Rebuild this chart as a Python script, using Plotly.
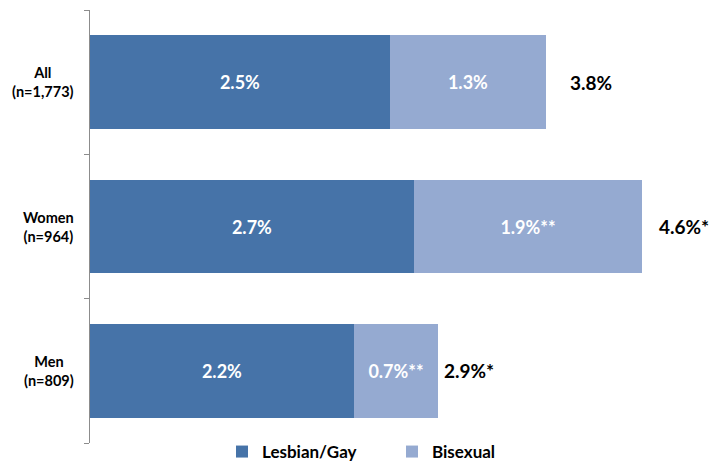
import plotly.graph_objects as go

# Data
categories = ["All", "Women", "Men"]
sample_sizes = ["n=1,773", "n=964", "n=809"]
lesbian_gay = [2.5, 2.7, 2.2]
bisexual = [1.3, 1.9, 0.7]
bisexual_sig = ["", "**", "**"]
totals = [3.8, 4.6, 2.9]
total_sig = ["", "*", "*"]

dark_blue = "#4673A8"
light_blue = "#95AAD1"
font_family = "Lato, 'Open Sans', Arial, sans-serif"

fig_w, fig_h = 711, 470
total_gaps = [22, 15, 4]  # px gap between bar end and total label

fig = go.Figure()

fig.add_trace(go.Bar(
    y=categories,
    x=lesbian_gay,
    orientation="h",
    name="<b>Lesbian/Gay</b>",
    marker=dict(color=dark_blue, line=dict(width=0)),
    text=[f"<b>{v:.1f}%</b>" for v in lesbian_gay],
    textposition="inside",
    insidetextanchor="middle",
    constraintext="none",
    textfont=dict(color="white", size=18, family=font_family),
    width=0.65,
))

fig.add_trace(go.Bar(
    y=categories,
    x=bisexual,
    orientation="h",
    name="<b>Bisexual</b>",
    marker=dict(color=light_blue, line=dict(width=0)),
    text=[f"<b>{v:.1f}%{s}</b>" for v, s in zip(bisexual, bisexual_sig)],
    textposition="inside",
    insidetextanchor="middle",
    constraintext="none",
    textfont=dict(color="white", size=18, family=font_family),
    width=0.65,
))

# Totals to the right of each stacked bar
for cat, tot, sig, gap in zip(categories, totals, total_sig, total_gaps):
    fig.add_annotation(
        x=tot, y=cat, xref="x", yref="y",
        text=f"<b>{tot:.1f}%{sig}</b>",
        showarrow=False, xanchor="left", xshift=gap,
        font=dict(color="black", size=19, family=font_family),
    )

# Category labels, centred on two lines
for cat, n in zip(categories, sample_sizes):
    fig.add_annotation(
        x=0, y=cat, xref="paper", yref="y",
        text=f"<b>{cat}<br>({n})</b>",
        showarrow=False, xanchor="right", xshift=-14, align="center",
        font=dict(color="black", size=14.5, family=font_family),
    )

# plot area runs to the bottom edge; the y axis domain leaves room for the legend
# so that the legend sits inside the paper and doesn't push the margins
plot_h = fig_h - 10
fig.update_layout(
    barmode="stack",
    width=fig_w,
    height=fig_h,
    margin=dict(l=90, r=21, t=10, b=0),
    plot_bgcolor="white",
    paper_bgcolor="white",
    font=dict(family=font_family),
    showlegend=True,
    legend=dict(
        orientation="h",
        x=(222 - 90) / 600, xanchor="left",
        y=0, yanchor="bottom",
        font=dict(size=17, color="black", family=font_family),
        itemwidth=30,
        entrywidth=125,
        traceorder="normal",
    ),
    xaxis=dict(
        range=[0, 5],
        visible=False,
        showgrid=False,
        zeroline=False,
    ),
    yaxis=dict(
        domain=[27 / plot_h, 1],
        categoryorder="array",
        categoryarray=categories[::-1],
        range=[-0.5, 2.5],
        showticklabels=False,
        showgrid=False,
        zeroline=False,
        showline=True,
        linecolor="#8C8C8C",
        linewidth=1,
        ticks="outside",
        tickson="boundaries",
        ticklen=5,
        tickcolor="#8C8C8C",
    ),
)

# drop the browser's default 8px body margin so the figure fills the window
fig.write_html("out.html", config={"displayModeBar": False},
               post_script="document.body.style.margin='0px';")
